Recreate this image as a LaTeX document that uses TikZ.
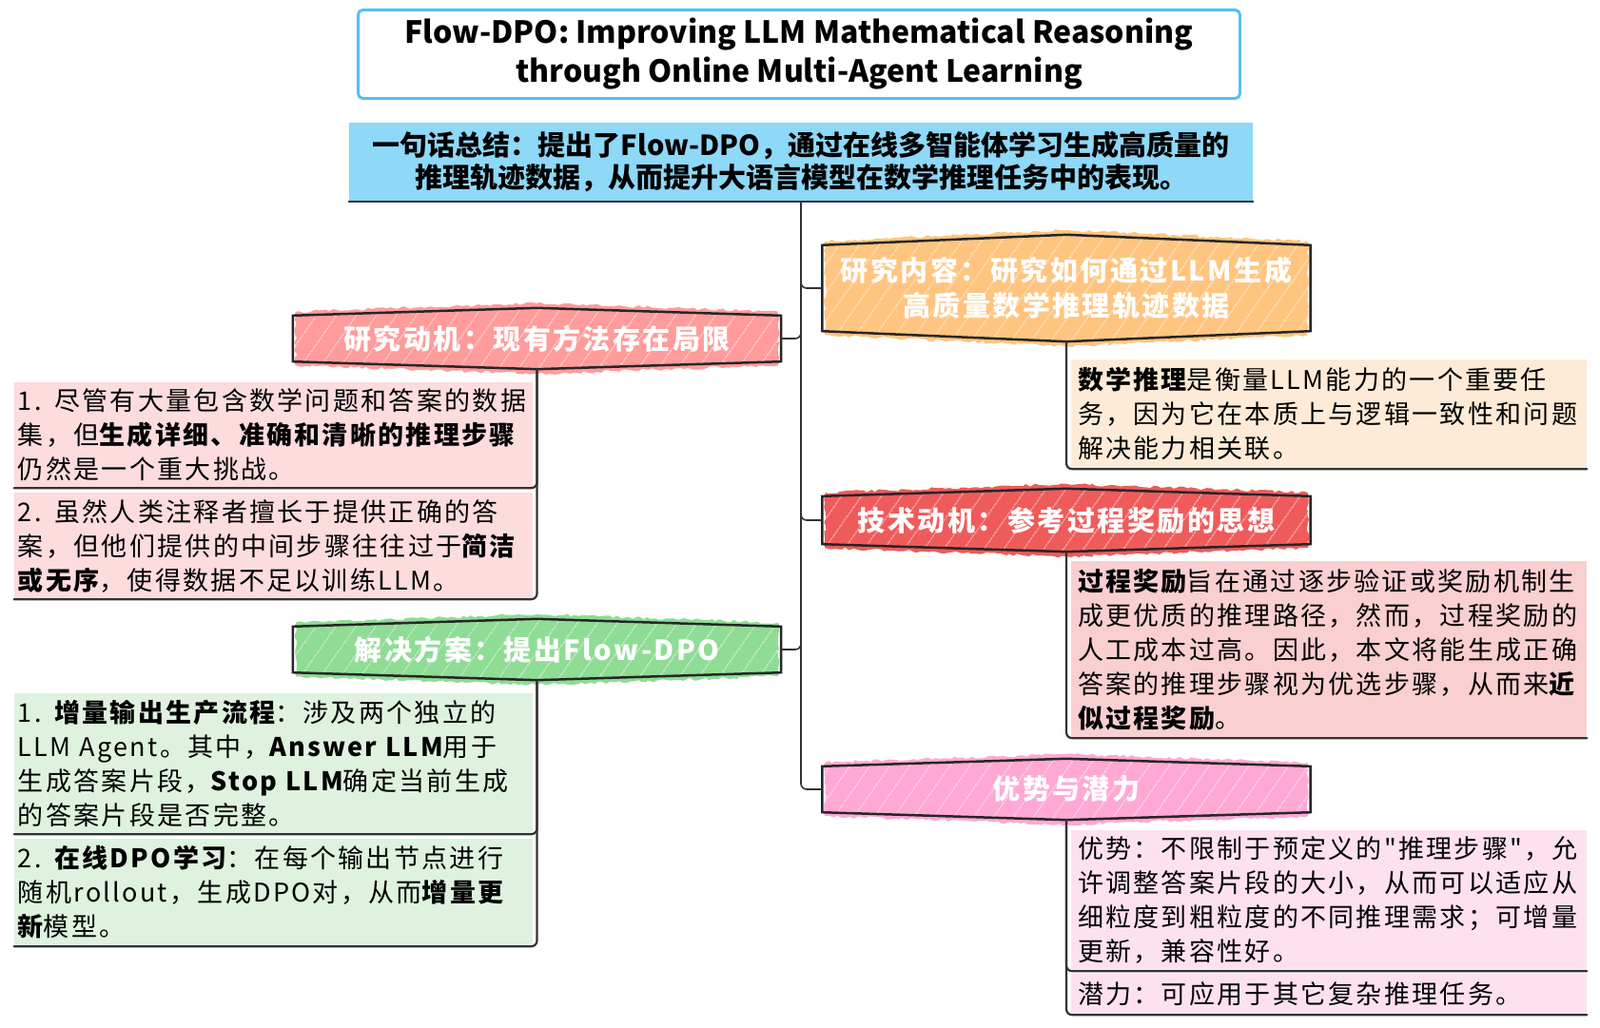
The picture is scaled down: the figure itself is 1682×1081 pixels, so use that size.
\documentclass[tikz,border=0pt]{standalone}
\usepackage{fontspec}
\setmainfont{Noto Sans CJK SC}
\newfontfamily\spacedfont[LetterSpace=8.5,Ligatures=TeXOff]{Noto Sans CJK SC}
\usetikzlibrary{patterns.meta,decorations.pathmorphing,backgrounds}

\definecolor{titleblue}{HTML}{52C2F2}
\definecolor{sumblue}{HTML}{8ED8F8}
\definecolor{linegray}{HTML}{333333}
\definecolor{motred}{HTML}{FF9B9B}
\definecolor{motleaf}{HTML}{FDDCDE}
\definecolor{solgreen}{HTML}{8FDC95}
\definecolor{solleaf}{HTML}{DFF2DF}
\definecolor{resorange}{HTML}{FFC580}
\definecolor{resleaf}{HTML}{FDEBD8}
\definecolor{techred}{HTML}{EF5B5B}
\definecolor{techleaf}{HTML}{F9CFD1}
\definecolor{advpink}{HTML}{FFA8D4}
\definecolor{advleaf}{HTML}{FDE1EF}

% sketchy hexagon behind a branch node: node, colour, peak, outer peak
\newcommand\hexshape[4]{%
  \begin{scope}[on background layer]
    \fill[#2,decorate,decoration={random steps,segment length=4pt,amplitude=1.5pt}]
      ([shift={(3pt,4pt)}]#1.north west) -- ([yshift=#4]#1.north) -- ([shift={(-3pt,4pt)}]#1.north east)
      -- ([shift={(-3pt,-4pt)}]#1.south east) -- ([yshift=-#4]#1.south) -- ([shift={(3pt,-4pt)}]#1.south west) -- cycle;
    \fill[pattern={Lines[angle=55,distance=17pt,line width=.6pt]},pattern color=white!80!#2]
      (#1.north west) -- ([yshift=#3]#1.north) -- (#1.north east)
      -- (#1.south east) -- ([yshift=-#3]#1.south) -- (#1.south west) -- cycle;
    \draw[line width=2.5pt,black!85]
      (#1.north west) -- ([yshift=#3]#1.north) -- (#1.north east)
      -- (#1.south east) -- ([yshift=-#3]#1.south) -- (#1.south west) -- cycle;
  \end{scope}}

\begin{document}
\begin{tikzpicture}[x=1pt,y=-1pt,line join=round,line cap=round,
    trunk/.style={draw=linegray,line width=1.6pt,rounded corners=6pt},
    link/.style={draw=linegray,line width=2.2pt,rounded corners=6pt},
    hexnode/.style={minimum width=513pt,minimum height=48pt,text=white,align=center,
      font=\spacedfont\bfseries\fontsize{29pt}{37pt}\selectfont},
    leaf/.style={font=\spacedfont\fontsize{27pt}{36pt}\selectfont,align=left,inner ysep=0pt},
    lleaf/.style={leaf,inner xsep=4pt,text width=537pt},
    rleaf/.style={leaf,inner xsep=7pt,text width=528pt}]
  \useasboundingbox (0,0) rectangle (1682,1081);
  \begin{scope}[on background layer]
    \fill[white] (0,0) rectangle (1682,1081);
  \end{scope}

  % title and summary
  \node[draw=titleblue,line width=3pt,rounded corners=5pt,minimum width=927pt,minimum height=93pt,
    align=center,font=\bfseries\fontsize{32pt}{41pt}\selectfont] (title) at (840,57)
    {Flow-DPO: Improving LLM Mathematical Reasoning\\through Online Multi-Agent Learning};
  \node[fill=sumblue,minimum width=950pt,minimum height=83pt,align=center,
    font=\bfseries\fontsize{29pt}{34pt}\selectfont] (sum) at (842,170.5)
    {一句话总结：提出了Flow-DPO，通过在线多智能体学习生成高质量的\\推理轨迹数据，从而提升大语言模型在数学推理任务中的表现。};
  \draw[line width=2.5pt,linegray] (sum.south west) -- (sum.south east);

  % branches
  \node[hexnode] (mot) at (564.5,356) {研究动机：现有方法存在局限};
  \node[hexnode] (sol) at (564.5,683) {解决方案：提出Flow-DPO};
  \node[hexnode,minimum height=90pt] (res) at (1121,303) {研究内容：研究如何通过LLM生成\\高质量数学推理轨迹数据};
  \node[hexnode,minimum height=50pt] (tech) at (1121,547) {技术动机：参考过程奖励的思想};
  \node[hexnode] (adv) at (1121,830) {优势与潜力};
  \hexshape{mot}{motred}{8pt}{13pt}
  \hexshape{sol}{solgreen}{8pt}{13pt}
  \hexshape{res}{resorange}{11pt}{16pt}
  \hexshape{tech}{techred}{8pt}{13pt}
  \hexshape{adv}{advpink}{8pt}{13pt}

  % leaves
  \node[lleaf,fill=motleaf,minimum height=111pt] (m1) at (287.5,457.5)
    {1. 尽管有大量包含数学问题和答案的数据\\集，但{\bfseries 生成详细、准确和清晰的推理步骤}\\仍然是一个重大挑战。};
  \node[lleaf,fill=motleaf,minimum height=112pt] (m2) at (287.5,574)
    {2. 虽然人类注释者擅长于提供正确的答\\案，但他们提供的中间步骤往往过于{\bfseries 简洁}\\{\bfseries 或无序}，使得数据不足以训练LLM。};
  \node[lleaf,fill=solleaf,minimum height=148pt] (s1) at (287.5,803)
    {1. {\bfseries 增量输出生产流程}：涉及两个独立的\\LLM Agent。其中，{\bfseries Answer LLM}用于\\生成答案片段，{\bfseries Stop LLM}确定当前生成\\的答案片段是否完整。};
  \node[lleaf,fill=solleaf,minimum height=113pt] (s2) at (287.5,938.5)
    {2. {\bfseries 在线DPO学习}：在每个输出节点进行\\随机rollout，生成DPO对，从而{\bfseries 增量更}\\{\bfseries 新}模型。};
  \node[rleaf,fill=resleaf,minimum height=115pt] (r1) at (1397,435.5)
    {{\bfseries 数学推理}是衡量LLM能力的一个重要任\\务，因为它在本质上与逻辑一致性和问题\\解决能力相关联。};
  \node[rleaf,fill=techleaf,minimum height=186pt] (t1) at (1397,683)
    {{\bfseries 过程奖励}旨在通过逐步验证或奖励机制生\\成更优质的推理路径，然而，过程奖励的\\人工成本过高。因此，本文将能生成正确\\答案的推理步骤视为优选步骤，从而来{\bfseries 近}\\{\bfseries 似过程奖励}。};
  \node[rleaf,fill=advleaf,minimum height=148pt] (a1) at (1397,947)
    {优势：不限制于预定义的"推理步骤"，允\\许调整答案片段的大小，从而可以适应从\\细粒度到粗粒度的不同推理需求；可增量\\更新，兼容性好。};
  \node[rleaf,fill=advleaf,minimum height=43pt] (a2) at (1397,1045.5)
    {潜力：可应用于其它复杂推理任务。};

  % trunk
  \draw[trunk] (sum.south) |- (mot.east);
  \draw[trunk] (sum.south) |- (sol.east);
  \draw[trunk] (sum.south) |- (res.west);
  \draw[trunk] (sum.south) |- (tech.west);
  \draw[trunk] (sum.south) |- (adv.west);

  % brackets to leaves
  \draw[link] ([yshift=-8pt]mot.south) |- (m1.south west);
  \draw[link] ([yshift=-8pt]mot.south) |- (m2.south west);
  \draw[link] ([yshift=-8pt]sol.south) |- (s1.south west);
  \draw[link] ([yshift=-8pt]sol.south) |- (s2.south west);
  \draw[link] ([yshift=-11pt]res.south) |- (r1.south east);
  \draw[link] ([yshift=-8pt]tech.south) |- (t1.south east);
  \draw[link] ([yshift=-8pt]adv.south) |- (a1.south east);
  \draw[link] ([yshift=-8pt]adv.south) |- (a2.south east);
\end{tikzpicture}
\end{document}
